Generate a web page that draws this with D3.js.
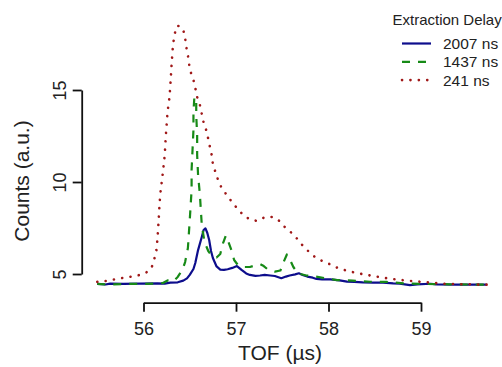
<!DOCTYPE html>
<meta charset="utf-8">
<script src="https://d3js.org/d3.v7.min.js"></script>
<style>
  body { margin: 0; background: #fff; }
  text { font-family: "Liberation Sans", Arial, sans-serif; fill: #222; }
</style>
<div id="my_dataviz"></div>
<script>
// TOF values (µs) and counts (a.u.)
var tof2007 = [55.50,55.59,55.64,55.78,55.96,56.15,56.23,56.29,56.37,56.43,56.47,56.50,56.54,56.56,56.59,56.63,56.65,56.67,56.69,56.71,56.73,56.75,56.79,56.83,56.87,56.91,56.96,57.01,57.03,57.06,57.11,57.15,57.21,57.26,57.31,57.37,57.42,57.49,57.54,57.58,57.64,57.68,57.72,57.77,57.83,57.87,57.93,58.02,58.12,58.20,58.28,58.37,58.48,58.59,58.70,58.77,58.88,58.96,59.10,59.17,59.38,59.53,59.71];
var counts2007 = [4.46,4.43,4.48,4.46,4.48,4.49,4.48,4.53,4.55,4.64,4.76,4.95,5.27,5.60,6.30,7.01,7.39,7.48,7.23,6.85,6.25,5.87,5.41,5.24,5.22,5.26,5.33,5.43,5.35,5.22,5.03,4.95,4.90,4.92,4.95,4.92,4.89,4.77,4.86,4.92,4.98,5.04,4.95,4.86,4.80,4.73,4.71,4.71,4.65,4.59,4.57,4.54,4.53,4.53,4.49,4.48,4.40,4.44,4.47,4.44,4.42,4.43,4.42];

var tof1437 = [55.50,55.64,55.80,55.96,56.12,56.21,56.26,56.32,56.37,56.42,56.45,56.48,56.49,56.50,56.51,56.52,56.52,56.53,56.54,56.54,56.55,56.57,56.57,56.58,56.58,56.59,56.61,56.62,56.63,56.66,56.70,56.74,56.79,56.83,56.86,56.89,56.91,56.95,56.98,57.02,57.08,57.15,57.22,57.26,57.30,57.35,57.42,57.48,57.51,57.55,57.58,57.62,57.67,57.76,57.86,57.97,58.09,58.26,58.45,58.63,58.81,59.02,59.31,59.71];
var counts1437 = [4.46,4.43,4.46,4.46,4.48,4.51,4.65,4.59,4.84,5.22,5.65,6.41,7.17,7.93,8.75,9.57,10.65,11.74,12.83,13.80,14.62,14.46,13.64,12.55,11.47,10.38,9.29,8.48,7.66,6.74,6.25,5.98,5.90,6.09,6.68,7.09,6.85,6.30,5.76,5.49,5.38,5.38,5.49,5.54,5.43,5.22,5.13,5.19,5.60,6.06,5.82,5.38,5.03,4.92,4.86,4.77,4.67,4.64,4.58,4.57,4.49,4.46,4.44,4.42];

var tof241 = [55.50,55.59,55.68,55.77,55.85,55.94,56.02,56.07,56.10,56.12,56.14,56.15,56.16,56.17,56.18,56.20,56.21,56.23,56.24,56.25,56.26,56.28,56.29,56.30,56.31,56.32,56.34,56.36,56.39,56.43,56.45,56.46,56.48,56.49,56.51,56.54,56.56,56.58,56.61,56.63,56.65,56.68,56.70,56.72,56.74,56.75,56.78,56.81,56.85,56.91,56.96,57.02,57.08,57.15,57.23,57.31,57.40,57.47,57.53,57.60,57.66,57.72,57.79,57.85,57.93,58.02,58.10,58.19,58.28,58.36,58.45,58.54,58.63,58.72,58.81,58.90,58.99,59.08,59.17,59.26,59.35,59.44,59.53,59.62,59.71];
var counts241 = [4.57,4.62,4.70,4.78,4.84,4.92,5.05,5.22,5.49,5.87,6.30,6.85,7.61,8.48,9.29,10.11,10.54,11.47,12.42,13.10,13.80,14.57,15.22,16.09,16.85,17.50,18.10,18.48,18.48,18.26,17.83,17.39,16.90,16.47,15.98,15.54,15.11,14.62,14.18,13.70,13.23,12.79,12.34,11.86,11.41,10.96,10.51,10.05,9.62,9.24,8.88,8.53,8.19,7.97,7.88,8.08,8.10,7.88,7.54,7.24,6.92,6.55,6.20,5.94,5.71,5.52,5.33,5.19,5.08,5.00,4.92,4.84,4.77,4.71,4.66,4.62,4.58,4.54,4.50,4.47,4.46,4.44,4.44,4.42,4.42];

var xTicks = [56, 57, 58, 59];
var yTicks = [5, 10, 15];
var seriesNames = ["2007 ns", "1437 ns", "241 ns"];
var colors = ["#0d0d8c", "#178a17", "#a01818"];
var dashes = [null, "8,8", "0.1,8.3"];
var caps = ["butt", "butt", "round"];
var widths = [2.2, 2.2, 2.6];

var width = 502, height = 367;

var svg = d3.select("#my_dataviz")
  .append("svg")
    .attr("width", width)
    .attr("height", height);

var x = d3.scaleLinear().domain([56, 59]).range([143.5, 421]);
var y = d3.scaleLinear().domain([5, 15]).range([274, 90]);

// x axis
var xAxis = svg.append("g")
  .attr("transform", "translate(0,302.7)")
  .call(d3.axisBottom(x).tickValues(xTicks).tickSize(9).tickSizeOuter(0).tickFormat(d3.format("d")));
xAxis.selectAll("path, line").attr("stroke", "#111").attr("stroke-width", 1.8);
xAxis.selectAll("text")
  .attr("y", 32).attr("dy", 0)
  .style("font-size", "18px").style("font-family", "Liberation Sans, Arial, sans-serif").attr("fill", "#222");

// y axis
var yAxis = svg.append("g")
  .attr("transform", "translate(81.7,0)")
  .call(d3.axisLeft(y).tickValues(yTicks).tickSize(9).tickSizeOuter(0));
yAxis.selectAll("path, line").attr("stroke", "#111").attr("stroke-width", 1.8);
yAxis.selectAll("text")
  .attr("transform", "rotate(-90)")
  .attr("x", 0).attr("y", -16).attr("dy", 0)
  .style("text-anchor", "middle")
  .style("font-size", "18px").style("font-family", "Liberation Sans, Arial, sans-serif").attr("fill", "#222");

// axis titles
svg.append("text")
  .attr("x", 280).attr("y", 360)
  .style("text-anchor", "middle")
  .style("font-size", "21px")
  .text("TOF (µs)");

svg.append("text")
  .attr("transform", "translate(29,181) rotate(-90)")
  .style("text-anchor", "middle")
  .style("font-size", "21px")
  .text("Counts (a.u.)");

// curves
var line = d3.line()
  .x(function(d){ return x(d[0]); })
  .y(function(d){ return y(d[1]); });

var series = [
  d3.zip(tof2007, counts2007),
  d3.zip(tof1437, counts1437),
  d3.zip(tof241, counts241)
];

series.forEach(function(s, i){
  svg.append("path")
    .datum(s)
    .attr("fill", "none")
    .attr("stroke", colors[i])
    .attr("stroke-width", widths[i])
    .attr("stroke-dasharray", dashes[i])
    .attr("stroke-linecap", caps[i])
    .attr("stroke-linejoin", "round")
    .attr("d", line);
});

// legend
svg.append("text").attr("x", 392.5).attr("y", 25).text("Extraction Delay").style("font-size", "15px");
seriesNames.forEach(function(name, i){
  var ly = 43.5 + i * 18.3;
  svg.append("line")
    .attr("x1", 402).attr("x2", 431).attr("y1", ly).attr("y2", ly)
    .attr("stroke", colors[i]).attr("stroke-width", widths[i])
    .attr("stroke-dasharray", dashes[i])
    .attr("stroke-linecap", caps[i]);
  svg.append("text").attr("x", 443).attr("y", ly + 5.5).text(name).style("font-size", "15.5px");
});
</script>
